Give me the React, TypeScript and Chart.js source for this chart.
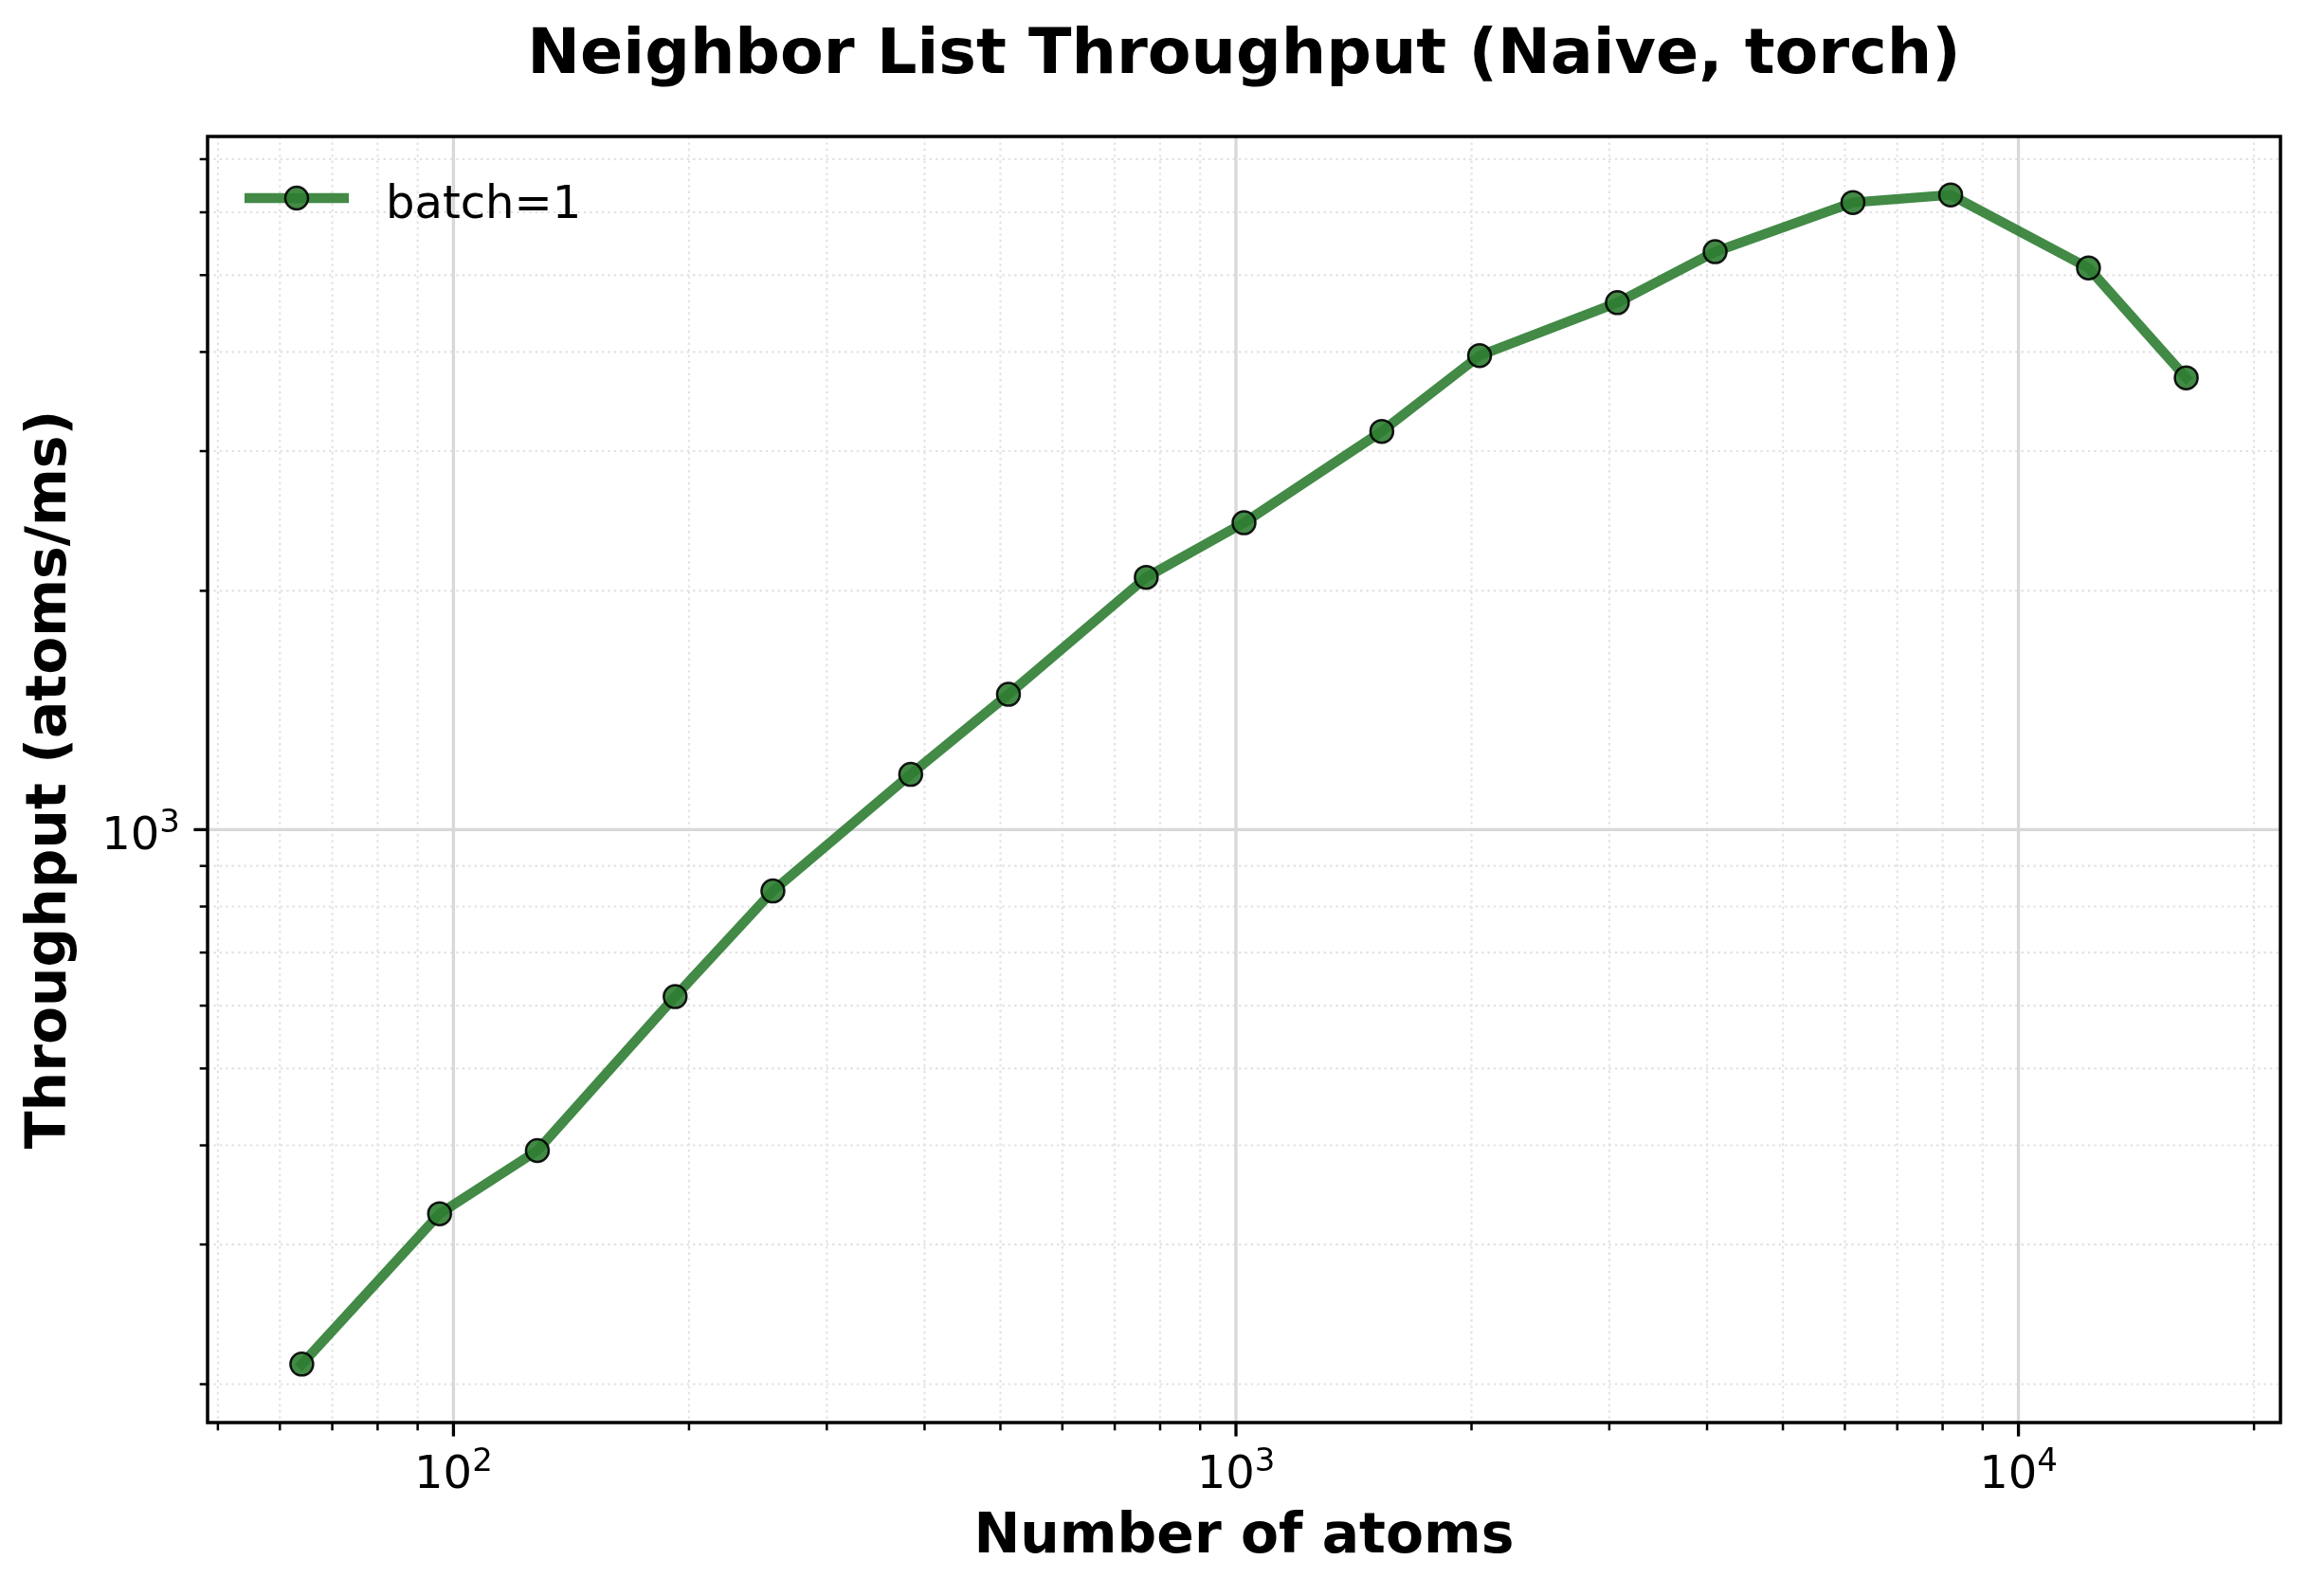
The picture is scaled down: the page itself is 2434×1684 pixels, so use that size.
import React, { useEffect, useRef } from 'react';
import { Chart, registerables } from 'chart.js';

Chart.register(...registerables);

// ---- data ----
const atoms = [64, 96, 128, 192, 256, 384, 512, 768, 1024, 1536, 2048, 3072, 4096, 6144, 8192, 12288, 16384];
const throughput = [212, 328, 394, 616, 837, 1174, 1481, 2080, 2437, 3177, 3958, 4616, 5351, 6173, 6310, 5105, 3711];
const seriesLabel = 'batch=1';

const titleText = 'Neighbor List Throughput (Naive, torch)';
const xTitleText = 'Number of atoms';
const yTitleText = 'Throughput (atoms/ms)';

// major tick labels: base and exponent (drawn as 10 with a raised exponent)
const xMajorTicks = [100, 1000, 10000];
const xMajorExponents = ['2', '3', '4'];
const yMajorTicks = [1000];
const yMajorExponents = ['3'];
const tickBase = '10';
const minorMultipliers = [2, 3, 4, 5, 6, 7, 8, 9];
const minorDecades = [10, 100, 1000, 10000];

// ---- style ----
const W = 2434;
const H = 1684;
const FONT = "'DejaVu Sans', 'Liberation Sans', sans-serif";
const GREEN = 'rgba(46,125,50,0.9)';
const EDGE = 'rgba(0,0,0,0.9)';
const TICK_FONT = 48;
const SUP_FONT = 34;
const SUP_RAISE = 17.7;

function logLimits(vals: number[]): [number, number] {
  const lo = Math.log10(Math.min(...vals));
  const hi = Math.log10(Math.max(...vals));
  const m = (hi - lo) * 0.05;
  return [Math.pow(10, lo - m), Math.pow(10, hi + m)];
}

const [xMin, xMax] = logLimits(atoms);
const [yMin, yMax] = logLimits(throughput);

function tickList(min: number, max: number, majors: number[]) {
  const out: { value: number; major: boolean }[] = [];
  minorDecades.forEach((d) =>
    minorMultipliers.forEach((k) => {
      const v = d * k;
      if (v >= min && v <= max) out.push({ value: v, major: false });
    })
  );
  majors.forEach((v) => {
    if (v >= min && v <= max) out.push({ value: v, major: true });
  });
  out.sort((a, b) => a.value - b.value);
  return out;
}

const xTicks = tickList(xMin, xMax, xMajorTicks);
const yTicks = tickList(yMin, yMax, yMajorTicks);

// draws "10" followed by a raised, smaller exponent; anchor: 'center' or 'right'
function drawPowerLabel(ctx: CanvasRenderingContext2D, exp: string, x: number, baseline: number, anchor: 'center' | 'right') {
  ctx.font = `${TICK_FONT}px ${FONT}`;
  const wBase = ctx.measureText(tickBase).width;
  ctx.font = `${SUP_FONT}px ${FONT}`;
  const wSup = ctx.measureText(exp).width;
  const total = wBase + wSup;
  const x0 = anchor === 'center' ? x - total / 2 : x - total;
  ctx.textAlign = 'left';
  ctx.textBaseline = 'alphabetic';
  ctx.fillStyle = '#000';
  ctx.font = `${TICK_FONT}px ${FONT}`;
  ctx.fillText(tickBase, x0, baseline);
  ctx.font = `${SUP_FONT}px ${FONT}`;
  ctx.fillText(exp, x0 + wBase, baseline - SUP_RAISE);
}

const mplAxes = {
  id: 'mplAxes',
  beforeDatasetsDraw(chart: any) {
    const { ctx, chartArea: a, scales } = chart;
    const xs = scales.x;
    const ys = scales.y;
    ctx.save();
    ctx.beginPath();
    ctx.rect(a.left, a.top, a.right - a.left, a.bottom - a.top);
    ctx.clip();
    // minor grid (dotted)
    ctx.strokeStyle = '#e2e2e2';
    ctx.lineWidth = 2.2;
    ctx.setLineDash([2.4, 4]);
    xTicks.filter((t) => !t.major).forEach((t) => {
      const px = xs.getPixelForValue(t.value);
      ctx.beginPath();
      ctx.moveTo(px, a.top);
      ctx.lineTo(px, a.bottom);
      ctx.stroke();
    });
    yTicks.filter((t) => !t.major).forEach((t) => {
      const py = ys.getPixelForValue(t.value);
      ctx.beginPath();
      ctx.moveTo(a.left, py);
      ctx.lineTo(a.right, py);
      ctx.stroke();
    });
    // major grid (solid)
    ctx.setLineDash([]);
    ctx.strokeStyle = '#d8d8d8';
    ctx.lineWidth = 3.3;
    xTicks.filter((t) => t.major).forEach((t) => {
      const px = xs.getPixelForValue(t.value);
      ctx.beginPath();
      ctx.moveTo(px, a.top);
      ctx.lineTo(px, a.bottom);
      ctx.stroke();
    });
    yTicks.filter((t) => t.major).forEach((t) => {
      const py = ys.getPixelForValue(t.value);
      ctx.beginPath();
      ctx.moveTo(a.left, py);
      ctx.lineTo(a.right, py);
      ctx.stroke();
    });
    ctx.restore();
  },
  afterDatasetsDraw(chart: any) {
    const { ctx, chartArea: a, scales } = chart;
    const xs = scales.x;
    const ys = scales.y;
    ctx.save();
    // tick marks
    ctx.strokeStyle = '#000';
    xTicks.forEach((t) => {
      const px = xs.getPixelForValue(t.value);
      ctx.lineWidth = t.major ? 3.3 : 2.5;
      const len = t.major ? 14.6 : 8.3;
      ctx.beginPath();
      ctx.moveTo(px, a.bottom);
      ctx.lineTo(px, a.bottom + len);
      ctx.stroke();
    });
    yTicks.forEach((t) => {
      const py = ys.getPixelForValue(t.value);
      ctx.lineWidth = t.major ? 3.3 : 2.5;
      const len = t.major ? 14.6 : 8.3;
      ctx.beginPath();
      ctx.moveTo(a.left, py);
      ctx.lineTo(a.left - len, py);
      ctx.stroke();
    });
    // spines
    ctx.lineWidth = 3.5;
    ctx.strokeStyle = '#000';
    ctx.strokeRect(a.left, a.top, a.right - a.left, a.bottom - a.top);

    // major tick labels
    xMajorTicks.forEach((v, i) => {
      if (v < xs.min || v > xs.max) return;
      drawPowerLabel(ctx, xMajorExponents[i], xs.getPixelForValue(v), a.bottom + 69, 'center');
    });
    yMajorTicks.forEach((v, i) => {
      if (v < ys.min || v > ys.max) return;
      drawPowerLabel(ctx, yMajorExponents[i], a.left - 29, ys.getPixelForValue(v) + 20.7, 'right');
    });

    // legend (inside axes, upper left)
    const ds = chart.data.datasets[0];
    const ly = a.top + 65;
    ctx.strokeStyle = ds.borderColor;
    ctx.lineWidth = ds.borderWidth;
    ctx.lineCap = 'butt';
    ctx.beginPath();
    ctx.moveTo(a.left + 39, ly);
    ctx.lineTo(a.left + 149, ly);
    ctx.stroke();
    ctx.beginPath();
    ctx.arc(a.left + 94, ly, ds.pointRadius, 0, Math.PI * 2);
    ctx.fillStyle = ds.pointBackgroundColor;
    ctx.fill();
    ctx.lineWidth = ds.pointBorderWidth;
    ctx.strokeStyle = ds.pointBorderColor;
    ctx.stroke();
    ctx.fillStyle = '#000';
    ctx.font = `48px ${FONT}`;
    ctx.textAlign = 'left';
    ctx.textBaseline = 'alphabetic';
    ctx.fillText(ds.label, a.left + 188, a.top + 86);
    ctx.restore();
  },
};

export default function App() {
  const ref = useRef<HTMLCanvasElement>(null);
  useEffect(() => {
    document.body.style.margin = '0';
    const canvas = ref.current;
    if (!canvas) return;
    const chart = new Chart(canvas, {
      type: 'line',
      data: {
        datasets: [
          {
            label: seriesLabel,
            data: atoms.map((a, i) => ({ x: a, y: throughput[i] })),
            borderColor: GREEN,
            borderWidth: 10.4,
            borderJoinStyle: 'round',
            borderCapStyle: 'square',
            tension: 0,
            fill: false,
            pointRadius: 12,
            pointHoverRadius: 12,
            pointBackgroundColor: GREEN,
            pointBorderColor: EDGE,
            pointBorderWidth: 2.5,
            clip: false,
          } as any,
        ],
      },
      options: {
        animation: false,
        responsive: false,
        devicePixelRatio: 1,
        events: [],
        layout: { padding: { left: 0, right: 28, top: 0, bottom: 0 } },
        plugins: {
          legend: { display: false },
          tooltip: { enabled: false },
          title: {
            display: true,
            text: titleText,
            fullSize: false,
            color: '#000',
            font: { family: FONT, size: 66.67, weight: 'bold', lineHeight: 1.2 },
            padding: { top: 20, bottom: 44 },
          },
        },
        scales: {
          x: {
            type: 'logarithmic',
            position: 'bottom',
            min: xMin,
            max: xMax,
            bounds: 'data',
            grid: { display: false },
            border: { display: false },
            afterBuildTicks: (scale: any) => {
              scale.ticks = xTicks.map((t) => ({ value: t.value, major: t.major }));
            },
            afterFit: (scale: any) => {
              scale.height = H - 1501;
            },
            ticks: { display: false, autoSkip: false, maxRotation: 0, minRotation: 0 },
            title: {
              display: true,
              text: xTitleText,
              color: '#000',
              font: { family: FONT, size: 58.33, weight: 'bold', lineHeight: 1.2 },
              padding: { top: 0, bottom: 26 },
            },
          },
          y: {
            type: 'logarithmic',
            position: 'left',
            min: yMin,
            max: yMax,
            bounds: 'data',
            grid: { display: false },
            border: { display: false },
            afterBuildTicks: (scale: any) => {
              scale.ticks = yTicks.map((t) => ({ value: t.value, major: t.major }));
            },
            afterFit: (scale: any) => {
              scale.width = 219;
            },
            ticks: { display: false, autoSkip: false },
            title: {
              display: true,
              text: yTitleText,
              color: '#000',
              font: { family: FONT, size: 58.33, weight: 'bold', lineHeight: 1.2 },
              padding: { top: 19, bottom: 0 },
            },
          },
        },
      } as any,
      plugins: [mplAxes],
    });
    return () => chart.destroy();
  }, []);
  return (
    <div style={{ width: W, height: H, background: '#fff' }}>
      <canvas ref={ref} width={W} height={H} style={{ display: 'block', width: W, height: H }} />
    </div>
  );
}
